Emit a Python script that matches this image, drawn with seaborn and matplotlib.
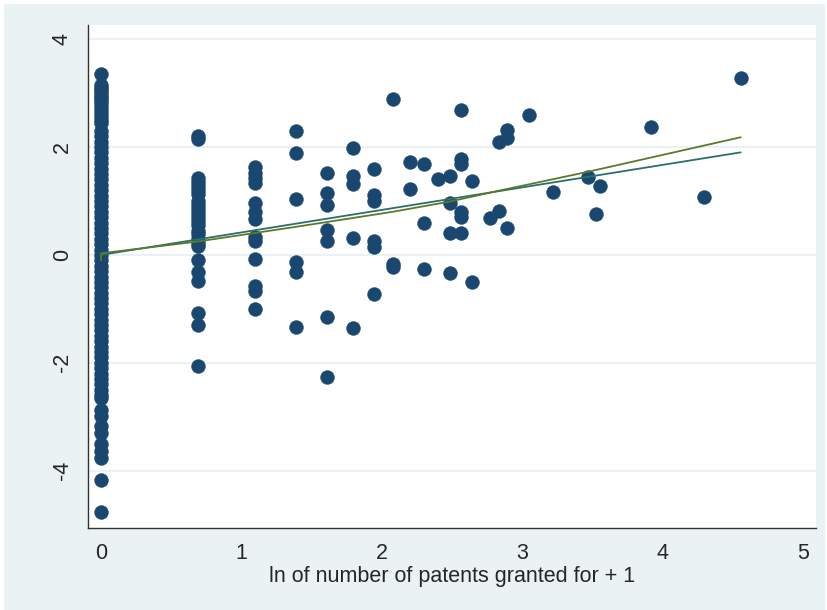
import numpy as np
import pandas as pd
import matplotlib
matplotlib.use('Agg')
import matplotlib.pyplot as plt
from matplotlib.patches import Rectangle
import seaborn as sns

# ===============================
# DATA
# ===============================
# residual values for firms by number of patents granted
y_n0 = [3.35, 3.15, 3.10, 3.05, 3.00, 2.95, 2.90, 2.85, 2.80, 2.72, 2.65, 2.58,
        2.50, 2.45, 2.30, 2.20, 2.10, 2.00, 1.90, 1.80, 1.70, 1.60, 1.50, 1.40,
        1.30, 1.20, 1.10, 1.00, 0.90, 0.80, 0.70, 0.60, 0.50, 0.40, 0.30, 0.20,
        0.10, 0.00, -0.10, -0.20, -0.30, -0.40, -0.50, -0.60, -0.70, -0.80,
        -0.90, -1.00, -1.10, -1.20, -1.30, -1.40, -1.50, -1.60, -1.70, -1.80,
        -1.90, -2.00, -2.10, -2.20, -2.30, -2.40, -2.50, -2.60, -2.65,
        -2.87, -2.99, -3.17, -3.30, -3.50, -3.63, -3.76, -4.17, -4.76]
y_n1 = [2.20, 2.15, 1.42, 1.35, 1.28, 1.20, 1.12, 1.00, 0.92, 0.85, 0.78, 0.70,
        0.62, 0.55, 0.45, 0.38, 0.30, 0.22, 0.17, -0.10, -0.32, -0.49, -1.07,
        -1.29, -2.05]
y_n2 = [1.62, 1.52, 1.43, 1.34, 0.96, 0.79, 0.66, 0.33, 0.26, -0.07, -0.57,
        -0.66, -1.00]
y_n3 = [2.29, 1.89, 1.03, -0.14, -0.32, -1.33]
y_n4 = [1.51, 1.14, 0.92, 0.47, 0.26, -1.15, -2.27]
y_n5 = [1.98, 1.47, 1.31, 0.31, -1.35]
y_n6 = [1.60, 1.11, 0.99, 0.26, 0.14, -0.72]

# firms with 7 or more patents
tail_n = [7, 7, 7, 8, 8, 9, 9, 9, 10, 11, 11, 11, 11, 12, 12, 12, 12, 12, 12,
          13, 13, 15, 16, 16, 17, 17, 17, 20, 24, 31, 33, 34, 49, 72, 94]
tail_y = [2.88, -0.17, -0.23, 1.72, 1.23, 1.68, 0.60, -0.26, 1.40, 1.46, 0.97,
          0.40, -0.34, 2.68, 1.77, 1.68, 0.79, 0.71, 0.41, 1.37, -0.50, 0.68,
          2.10, 0.81, 2.32, 2.17, 0.49, 2.59, 1.16, 1.45, 0.76, 1.28, 2.37,
          1.07, 3.28]

# fitted lines
lin_x = [0.0, 4.554]
lin_y = [0.0, 1.90]
smooth_x = [0.0, 0.0, 0.693, 1.386, 2.079, 2.485, 2.833, 3.466, 4.554]
smooth_y = [-0.10, 0.03, 0.25, 0.52, 0.80, 0.99, 1.19, 1.54, 2.18]

# ===============================
# BUILD FRAME
# ===============================
groups = [y_n0, y_n1, y_n2, y_n3, y_n4, y_n5, y_n6]
rows = []
for n, ys in enumerate(groups):
    rows += [(np.log(n + 1), v) for v in ys]
rows += [(np.log(n + 1), v) for n, v in zip(tail_n, tail_y)]
df = pd.DataFrame(rows, columns=['lnpat', 'resid'])

# ===============================
# PLOT
# ===============================
sns.set_style('white')
plt.rcParams['font.family'] = ['Liberation Sans', 'DejaVu Sans']
plt.rcParams['axes.unicode_minus'] = False

bg = '#EAF2F3'
navy = '#1A476F'

fig = plt.figure(figsize=(8.27, 6.10), dpi=100)
fig.patch.set_facecolor('white')
fig.patches.append(Rectangle((0.005, 0.0), 0.993, 0.993,
                             transform=fig.transFigure, facecolor=bg,
                             edgecolor='none', zorder=-10))
ax = fig.add_axes([88 / 827, 1 - 528 / 610, 728 / 827, 503 / 610])
ax.set_facecolor('white')

ax.set_yticks([-4, -2, 0, 2, 4])
ax.set_xticks([0, 1, 2, 3, 4, 5])
ax.yaxis.grid(True, color=bg, linewidth=1.6)
ax.xaxis.grid(False)
ax.set_axisbelow(True)

sns.scatterplot(data=df, x='lnpat', y='resid', ax=ax, color=navy,
                s=100, edgecolor=navy, linewidth=0.3, zorder=3)
sns.lineplot(x=lin_x, y=lin_y, ax=ax, color='#2B6F6C', linewidth=1.3,
             estimator=None, sort=False, zorder=4)
sns.lineplot(x=smooth_x, y=smooth_y, ax=ax, color='#5A7A2A', linewidth=1.3,
             estimator=None, sort=False, zorder=5)

ax.set_xlim(-0.093, 5.09)
ax.set_ylim(-5.06, 4.26)

for side in ['top', 'right']:
    ax.spines[side].set_visible(False)
for side in ['left', 'bottom']:
    ax.spines[side].set_color('#333333')
    ax.spines[side].set_linewidth(1.0)

ax.tick_params(axis='both', direction='out', length=8, width=1.0,
               color='#555555', labelsize=15.5, pad=3)
plt.setp(ax.get_yticklabels(), rotation=90, va='center')

ax.set_xlabel('ln of number of patents granted for + 1', fontsize=15.5,
              labelpad=1)
ax.set_ylabel('')

plt.savefig('out.png', dpi=100)
plt.close()
